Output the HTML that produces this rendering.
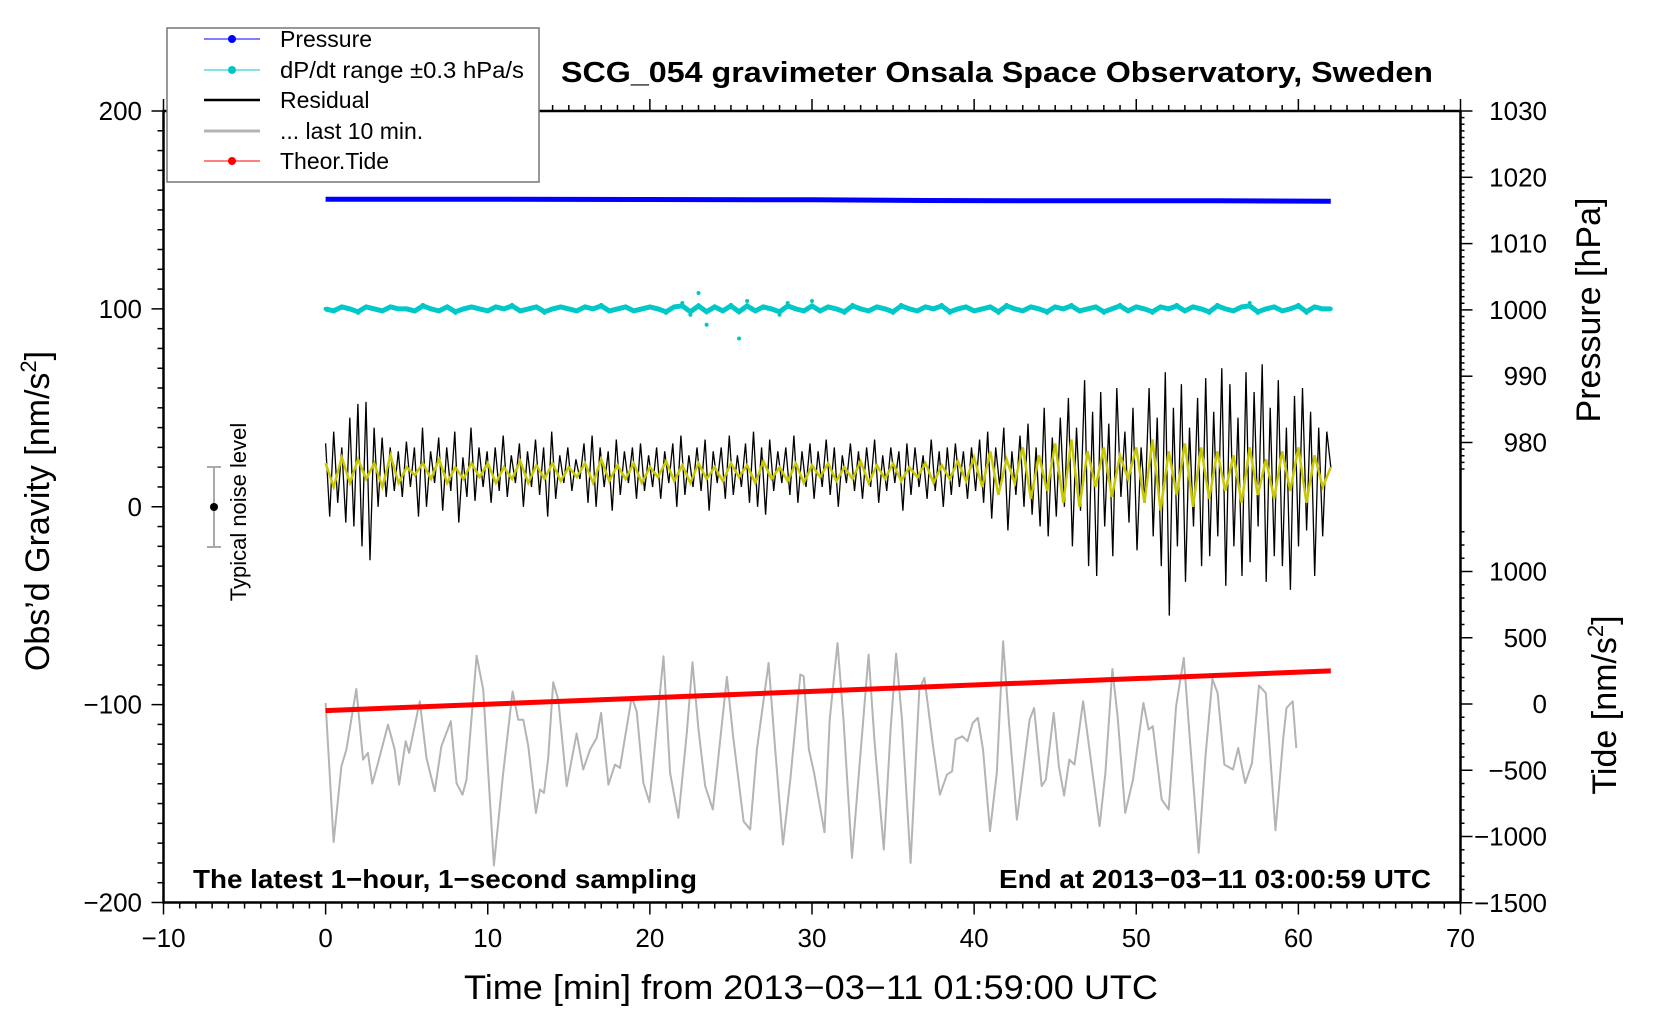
<!DOCTYPE html>
<html><head><meta charset="utf-8"><style>
html,body{margin:0;padding:0;background:#fff;overflow:hidden;}
svg{display:block;font-family:"Liberation Sans",Arial,sans-serif;}
</style></head><body>
<svg id="chart" width="1660" height="1020" viewBox="0 0 1660 1020" xmlns="http://www.w3.org/2000/svg">
<rect x="0" y="0" width="1660" height="1020" fill="#fff"/>
<g id="ticks"></g>
<g id="series"></g>
<rect x="163.5" y="111" width="1297" height="791.5" fill="none" stroke="#000" stroke-width="2.5"/>
<text x="561" y="82" font-size="29" font-weight="bold" textLength="872" lengthAdjust="spacingAndGlyphs">SCG_054 gravimeter Onsala Space Observatory, Sweden</text>
<text x="464" y="999" font-size="34" textLength="694" lengthAdjust="spacingAndGlyphs">Time [min] from 2013−03−11 01:59:00 UTC</text>
<text transform="translate(49,511) rotate(-90)" text-anchor="middle" font-size="34">Obs’d Gravity [nm/s<tspan font-size="22" dy="-13">2</tspan><tspan dy="13">]</tspan></text>
<text transform="translate(1600,310) rotate(-90)" text-anchor="middle" font-size="34">Pressure [hPa]</text>
<text transform="translate(1616,705) rotate(-90)" text-anchor="middle" font-size="34">Tide [nm/s<tspan font-size="22" dy="-13">2</tspan><tspan dy="13">]</tspan></text>
<text x="193" y="888" font-size="26" font-weight="bold" textLength="504" lengthAdjust="spacingAndGlyphs">The latest 1−hour, 1−second sampling</text>
<text x="999" y="888" font-size="26" font-weight="bold" textLength="432" lengthAdjust="spacingAndGlyphs">End at 2013−03−11 03:00:59 UTC</text>
<g>
<line x1="214" y1="467" x2="214" y2="547" stroke="#aaa" stroke-width="2"/>
<line x1="207" y1="467" x2="221" y2="467" stroke="#aaa" stroke-width="2"/>
<line x1="207" y1="547" x2="221" y2="547" stroke="#aaa" stroke-width="2"/>
<circle cx="214" cy="507" r="4" fill="#000"/>
<text transform="translate(246,512) rotate(-90)" text-anchor="middle" font-size="22">Typical noise level</text>
</g>
<g>
<rect x="167" y="28" width="372" height="154" fill="#fff" stroke="#777" stroke-width="1.5"/>
<g><line x1="204" y1="39" x2="260" y2="39" stroke="#00f" stroke-width="1"/><circle cx="232" cy="39" r="4" fill="#00f"/><text x="280" y="47" font-size="23">Pressure</text></g>
<g><line x1="204" y1="70" x2="260" y2="70" stroke="#00c8c8" stroke-width="1"/><circle cx="232" cy="70" r="4" fill="#00c8c8"/><text x="280" y="78" font-size="23" textLength="244" lengthAdjust="spacingAndGlyphs">dP/dt range ±0.3 hPa/s</text></g>
<g><line x1="204" y1="100" x2="260" y2="100" stroke="#000" stroke-width="2.5"/><text x="280" y="108" font-size="23">Residual</text></g>
<g><line x1="204" y1="131" x2="260" y2="131" stroke="#b4b4b4" stroke-width="3"/><text x="280" y="139" font-size="23">... last 10 min.</text></g>
<g><line x1="204" y1="161" x2="260" y2="161" stroke="#f00" stroke-width="1"/><circle cx="232" cy="161" r="4" fill="#f00"/><text x="280" y="169" font-size="23">Theor.Tide</text></g>
</g>
</svg>
<script>
// ---- data ----
const xTickLabels = [-10,0,10,20,30,40,50,60,70];
const yTickLabels = [200,100,0,-100,-200];
const pTickLabels = [1030,1020,1010,1000,990,980];
const tideTickLabels = [1000,500,0,-500,-1000,-1500];
const pressureT = [0,10,20,30,37,45,55,62];
const pressureV = [1016.7,1016.7,1016.65,1016.6,1016.5,1016.45,1016.45,1016.4];
const tideT = [0,62];
const tideV = [-50,250];
const dpdtV = [100,99,101,100,98,101,100,99,101,100,100,99,102,100,99,101,98,100,101,100,99,101,100,102,99,100,101,98,100,101,100,99,101,100,102,99,100,101,99,100,101,100,98,101,103,97,108,92,101,99,102,85,104,99,101,100,97,103,100,99,104,99,101,100,98,102,100,99,101,100,98,102,100,99,101,100,102,98,100,101,99,100,101,98,102,100,99,101,100,98,101,100,102,99,100,101,98,100,102,99,101,100,98,101,100,102,99,101,100,98,102,100,99,101,103,98,100,101,99,100,102,98,101,100,100];
const residualV = [32,-5,38,2,30,-8,45,-10,52,-20,53,-27,40,0,35,5,30,
8,28,5,33,10,30,-5,40,0,28,12,35,-2,30,8,38,-8,25,5,40,3,30,10,28,
2,30,8,36,5,26,12,32,0,28,10,34,6,30,-5,38,4,26,12,30,8,24,14,32,2,36,0,30,10,28,-2,34,6,28,12,30,4,32,8,26,
10,30,4,28,12,32,0,36,6,26,10,30,8,34,-2,28,12,30,4,36,6,26,10,32,2,38,0,30,-4,34,8,28,12,30,6,36,2,28,10,32,
4,28,10,34,6,30,0,26,12,32,8,28,4,30,10,34,2,26,8,30,12,28,-2,32,6,30,10,26,4,34,8,28,0,30,6,32,10,28,4,30,
8,34,2,38,-6,30,10,40,-12,28,6,36,0,42,-4,30,
-10,50,-15,35,-5,45,0,55,-20,40,-2,64,-30,48,-35,58,-10,42,-25,60,5,38,-8,50,
-22,30,2,60,-15,45,-30,68,
-55,50,-20,62,-38,40,-10,55,-30,65,-25,48,-15,70,-40,62,-20,45,-35,68,-28,58,-10,72,-38,50,-25,64,-30,40,-42,56,-20,60,-12,48,-35,40,-15,38,20];
const smoothV = [22,10,25,12,24,14,22,10,26,12,20,16,22,14,24,12,20,14,22,15,
22,12,20,14,23,12,21,14,22,13,20,15,22,12,24,13,21,14,22,12,20,15,23,13,21,12,22,14,20,13,22,15,21,12,23,14,20,13,22,12,21,15,22,13,20,14,23,12,21,14,22,13,20,15,22,12,21,14,23,13,
25,10,28,6,24,12,30,4,26,8,32,2,34,0,28,10,30,5,26,14,
30,2,34,-2,28,6,32,0,30,4,28,8,26,2,30,6,24,4,28,8,30,2,26,10,20];
const last10T = [0,0.49,0.97,1.28,1.89,2.31,2.61,2.88,3.23,3.85,4.26,4.53,4.94,5.15,5.81,6.22,6.73,7.14,7.72,8.07,8.44,8.69,9.31,9.72,10.38,10.95,11.53,11.88,12.19,12.5,12.97,13.22,13.47,13.73,14.04,14.35,14.87,15.48,15.89,16.31,16.72,16.99,17.44,17.85,18.16,18.88,19.19,19.6,19.97,20.84,21.25,21.76,22.28,22.63,23.0,23.41,23.88,24.75,25.16,25.78,26.19,26.6,27.32,27.73,28.21,28.66,29.28,29.49,29.81,30.13,30.77,31.09,31.57,31.94,32.47,32.89,33.49,33.85,34.43,34.85,35.19,35.55,36.08,36.62,36.93,37.47,37.89,38.32,38.64,38.85,39.27,39.59,39.91,40.23,40.55,40.98,41.4,41.79,42.15,42.64,43.06,43.42,43.7,44.17,44.42,44.91,45.23,45.55,45.87,46.19,46.72,47.14,47.74,48.1,48.53,48.85,49.32,49.8,50.44,50.76,51.02,51.57,52.0,52.46,52.93,53.31,53.85,54.27,54.7,55.02,55.44,55.97,56.29,56.72,57.14,57.57,57.99,58.59,59.06,59.27,59.65,59.87];
const last10V = [-99.2,-169.5,-131.2,-122.7,-92.1,-127.8,-124.4,-139.9,-129.5,-110.1,-122.7,-140.4,-118.5,-124.4,-98.3,-127.0,-143.8,-121.0,-108.4,-139.6,-145.5,-137.9,-75.3,-92.4,-181.3,-134.5,-93.3,-107.6,-107.6,-121.0,-154.7,-142.9,-144.6,-127.0,-88.7,-97.5,-141.2,-114.6,-132.8,-122.7,-116.8,-104.2,-140.4,-130.3,-132.0,-96.1,-103.4,-139.6,-149.3,-75.6,-134.5,-157.2,-114.3,-78.6,-112.6,-141.2,-153.0,-86.0,-117.7,-158.9,-163.1,-122.7,-78.9,-122.7,-170.7,-137.9,-84.8,-85.7,-122.7,-134.5,-164.5,-107.6,-68.9,-107.6,-177.4,-134.5,-74.7,-117.7,-173.2,-112.6,-74.2,-107.6,-180.0,-92.4,-86.5,-121.0,-145.5,-135.4,-133.7,-117.7,-116.0,-118.5,-109.3,-106.7,-122.7,-164.0,-134.5,-68.0,-109.3,-158.1,-131.2,-107.6,-101.7,-141.2,-137.9,-104.2,-131.2,-146.0,-127.8,-130.3,-98.3,-124.4,-161.4,-134.5,-82.0,-105.9,-154.7,-137.9,-99.2,-112.6,-110.9,-148.0,-153.0,-100.8,-76.4,-117.7,-174.9,-126.1,-87.0,-94.1,-130.3,-132.8,-121.9,-139.6,-129.5,-90.4,-94.1,-163.5,-117.7,-101.7,-98.3,-121.9];

// ---- scales ----
const X0=163.5, X1=1460.5, Y0=111, Y1=902.5;
const xs = t => X0 + (t+10)/80*(X1-X0);
const ys = v => Y1 - (v+200)/400*(Y1-Y0);
const ps = p => 111 + (1030-p)*6.63;
const ts = v => 704 - v*0.1325;
const NS='http://www.w3.org/2000/svg';
function mk(tag, attrs, parent){const e=document.createElementNS(NS,tag);for(const k in attrs)e.setAttribute(k,attrs[k]);parent.appendChild(e);return e;}
const tk=document.getElementById('ticks'), sr=document.getElementById('series');
const ax={stroke:'#000','stroke-width':1.5};
for(let t=-10;t<=70;t++){const x=xs(t),L=(t%10===0)?12:6;
 mk('line',Object.assign({x1:x,y1:Y1,x2:x,y2:Y1+L},ax),tk);
 mk('line',Object.assign({x1:x,y1:Y0,x2:x,y2:Y0-L},ax),tk);}
xTickLabels.forEach(v=>{const e=mk('text',{x:xs(v),y:947,'font-size':26,'text-anchor':'middle'},tk);e.textContent=(v<0?'−':'')+Math.abs(v);

});
for(let v=-200;v<=200;v+=10){const y=ys(v),L=(v%100===0)?12:6;mk('line',Object.assign({x1:X0,y1:y,x2:X0-L,y2:y},ax),tk);}
yTickLabels.forEach(v=>{const e=mk('text',{x:142,y:ys(v)+9,'font-size':26,'text-anchor':'end'},tk);e.textContent=(v<0?'−':'')+Math.abs(v);

});
for(let p=1030;p>=976;p--){const y=ps(p),L=(p%10===0)?12:4;mk('line',Object.assign({x1:X1,y1:y,x2:X1+L,y2:y},ax),tk);}
pTickLabels.forEach(p=>{const e=mk('text',{x:1547,y:ps(p)+9,'font-size':26,'text-anchor':'end'},tk);e.textContent=p;

});
for(let v=-1500;v<=1300;v+=100){const y=ts(v),L=(v%500===0)?12:4;mk('line',Object.assign({x1:X1,y1:y,x2:X1+L,y2:y},ax),tk);}
tideTickLabels.forEach(v=>{const e=mk('text',{x:1547,y:ts(v)+9,'font-size':26,'text-anchor':'end'},tk);e.textContent=(v<0?'−':'')+Math.abs(v);

});
function poly(ts_,vs,fx,fy,style,name){const pts=vs.map((v,i)=>fx(ts_[i]).toFixed(1)+','+fy(v).toFixed(1)).join(' ');
 const e=mk('polyline',Object.assign({points:pts,fill:'none'},style),sr);
 
 return e;}
const even=(n,end)=>Array.from({length:n},(_,i)=>i*end/(n-1));
poly(last10T,last10V,xs,ys,{stroke:'#b4b4b4','stroke-width':2,'stroke-linejoin':'round'},'last-10-min-line');
poly(tideT,tideV,xs,ts,{stroke:'#f00','stroke-width':5},'theoretical-tide-line');
poly(even(residualV.length,62),residualV,xs,ys,{stroke:'#000','stroke-width':1.3},'residual-line');
poly(even(smoothV.length,62),smoothV,xs,ys,{stroke:'#c8c800','stroke-width':2.5},'residual-smoothed-line');
poly(pressureT,pressureV,xs,ps,{stroke:'#00f','stroke-width':5},'pressure-line');
const dT=even(dpdtV.length,62);
poly(dT,dpdtV.map(v=>Math.max(98.5,Math.min(101.5,v))),xs,ys,{stroke:'#00c8c8','stroke-width':5},'dpdt-band');
dpdtV.forEach((v,i)=>{const c=mk('circle',{cx:xs(dT[i]),cy:ys(v),r:2,fill:'#00c8c8'},sr);

});
</script>
</body></html>
